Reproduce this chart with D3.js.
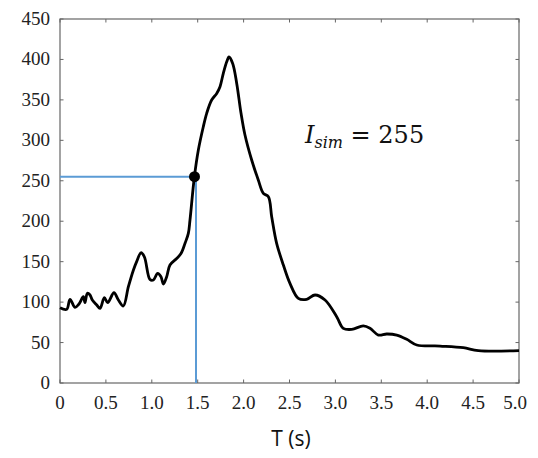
<!DOCTYPE html>
<html><head><meta charset="utf-8">
<script src="https://cdn.jsdelivr.net/npm/d3@7"></script>
<style>
html,body{margin:0;padding:0;background:#fff;}
.serif{font-family:"Liberation Serif","Times New Roman",Tinos,"DejaVu Serif",serif;}
.math{font-family:"DejaVu Serif","Liberation Serif",serif;}
.sans{font-family:"Open Sans","Noto Sans",sans-serif;}
</style>
</head><body>
<svg id="chart" width="538" height="458"></svg>
<script>
const periods = [0,0.073,0.109,0.163,0.207,0.254,0.272,0.298,0.327,0.352,0.40,0.436,0.483,0.519,0.588,0.636,0.69,0.745,0.80,0.835,0.882,0.919,0.98,1.017,1.064,1.10,1.126,1.162,1.198,1.271,1.318,1.362,1.398,1.416,1.463,1.507,1.561,1.598,1.652,1.707,1.743,1.779,1.816,1.841,1.881,1.925,1.972,2.015,2.088,2.16,2.215,2.27,2.306,2.36,2.433,2.505,2.596,2.687,2.778,2.887,3.014,3.086,3.178,3.304,3.377,3.468,3.559,3.668,3.777,3.886,4.14,4.393,4.557,5.0];
const intensity = [93,91,103.5,93.6,97.7,106.7,99.3,110.9,108.8,102.6,96.4,92.3,105.5,99.3,111.6,102.6,95.2,119,139.7,150,161,156,128,127.3,135.6,131.4,122.4,131.4,145.9,154,160,172.7,185,201.5,254,288,316.8,333.4,349.8,358,366.3,382.8,397,403,395,370.4,333.4,306.6,275.7,251,234.5,230.3,205.6,172.7,145.9,123.2,104.7,103.5,108.8,102.6,82,67.6,66.3,70.5,67.6,59.3,60.6,59.3,54,47,45.7,43.7,40,40];
const xTicks = [0,0.5,1.0,1.5,2.0,2.5,3.0,3.5,4.0,4.5,5.0];
const xTickLabels = ["0","0.5","1.0","1.5","2.0","2.5","3.0","3.5","4.0","4.5","5.0"];
const yTicks = [0,50,100,150,200,250,300,350,400,450];
const simPeriod = [1.465];
const simValue = [255];
const xLabel = "T (s)";

const svg = d3.select("#chart");
const x = d3.scaleLinear().domain([0,5]).range([60,519]);
const y = d3.scaleLinear().domain([0,450]).range([383,19]);
const frame = "#666";

svg.append("rect").attr("x",60).attr("y",19).attr("width",459).attr("height",364)
  .attr("fill","none").attr("stroke",frame).attr("stroke-width",1.2);

const tl = 3.5;
const g = svg.append("g");
xTicks.forEach(t=>{
  g.append("line").attr("x1",x(t)).attr("x2",x(t)).attr("y1",383).attr("y2",383-tl).attr("stroke",frame);
  g.append("line").attr("x1",x(t)).attr("x2",x(t)).attr("y1",19).attr("y2",19+tl).attr("stroke",frame);
});
yTicks.forEach(t=>{
  g.append("line").attr("x1",60).attr("x2",60+tl).attr("y1",y(t)).attr("y2",y(t)).attr("stroke",frame);
  g.append("line").attr("x1",519).attr("x2",519-tl).attr("y1",y(t)).attr("y2",y(t)).attr("stroke",frame);
});

svg.append("g").selectAll("text").data(yTicks).join("text").attr("class","serif")
  .attr("x",50).attr("y",d=>y(d)+6).attr("text-anchor","end")
  .attr("font-size",19).attr("fill","#222").text(d=>d);
svg.append("g").selectAll("text").data(xTicks).join("text").attr("class","serif")
  .attr("x",(d,i)=>x(d) - (i===xTicks.length-1?4:0)).attr("y",409).attr("text-anchor","middle")
  .attr("font-size",19).attr("fill","#222").text((d,i)=>xTickLabels[i]);

svg.append("text").attr("class","sans").attr("x",291).attr("y",446).attr("text-anchor","middle")
  .attr("font-size",21).attr("fill","#111").text(xLabel);

svg.append("line").attr("x1",x(0)).attr("x2",x(simPeriod[0])).attr("y1",y(simValue[0])).attr("y2",y(simValue[0]))
  .attr("stroke","#5b9bd5").attr("stroke-width",2);
svg.append("line").attr("x1",x(simPeriod[0])+1.5).attr("x2",x(simPeriod[0])+1.5).attr("y1",y(simValue[0])).attr("y2",y(0))
  .attr("stroke","#5b9bd5").attr("stroke-width",2);

const data = periods.map((p,i)=>({p, v:intensity[i]}));
const line = d3.line().x(d=>x(d.p)).y(d=>y(d.v)).curve(d3.curveCatmullRom.alpha(0.5));
svg.append("path").datum(data).attr("d",line).attr("fill","none")
  .attr("stroke","#000").attr("stroke-width",2.8).attr("stroke-linejoin","round");

svg.append("circle").attr("cx",x(simPeriod[0])).attr("cy",y(simValue[0])).attr("r",5.5).attr("fill","#000");

const ann = svg.append("text").attr("class","math").attr("x",305).attr("y",143)
  .attr("font-size",24).attr("fill","#111");
ann.append("tspan").attr("font-style","italic").text("I");
ann.append("tspan").attr("font-style","italic").attr("font-size",16).attr("dy",5).text("sim");
ann.append("tspan").attr("dy",-5).text(" = " + simValue[0]);
</script>
</body></html>
